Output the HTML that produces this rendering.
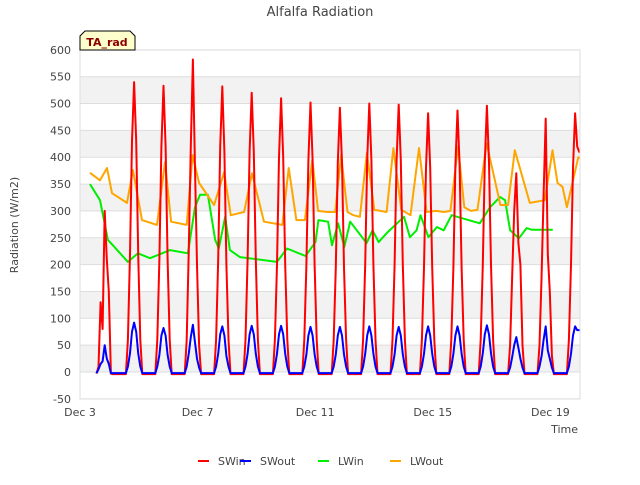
<!DOCTYPE html>
<html><head><meta charset="utf-8"><style>
body{margin:0;background:#fff;}
svg{font-family:"DejaVu Sans","Liberation Sans",sans-serif;}
</style></head><body>
<svg id="chart" width="640" height="480" xmlns="http://www.w3.org/2000/svg">
<text x="320" y="16" text-anchor="middle" font-size="13" fill="#444">Alfalfa Radiation</text>
<g id="bands"></g>
<g id="grid"></g>
<g id="yticks"></g>
<g id="xticks"></g>
<g id="series" clip-path="url(#clip)"></g>
<defs><clipPath id="clip"><rect x="80" y="50" width="500" height="349"/></clipPath></defs>
<rect x="80" y="50" width="500" height="349" fill="none" stroke="#ddd"/>
<text transform="translate(18,225) rotate(-90)" text-anchor="middle" font-size="11" fill="#444">Radiation (W/m2)</text>
<text x="578" y="433" text-anchor="end" font-size="11" fill="#444">Time</text>
<g>
<path d="M80,50 L80,36 L85,31 L130,31 L135,36 L135,50 Z" fill="#ffffcc" stroke="#000" stroke-width="1"/>
<text x="107" y="46" text-anchor="middle" font-size="11" font-weight="bold" fill="#8b0000">TA_rad</text>
</g>
<g id="legend"></g>
</svg>
<script>
const NS="http://www.w3.org/2000/svg";
const yTicks=[-50,0,50,100,150,200,250,300,350,400,450,500,550,600];
const xTickLabels=["Dec 3","Dec 7","Dec 11","Dec 15","Dec 19"];
const xTickDays=[0,4,8,12,16];
const seriesNames=["SWin","SWout","LWin","LWout"];
const seriesColors=["#ff0000","#0000ff","#00ee00","#ffa500"];
const swOffsets=[0.56,0.63,0.7,0.77,0.84,0.91,0.98,1.05,1.12];
const swinDays=[
[-3,10,130,80,300,210,150,-3,-4],
[-4,60,220,430,540,430,220,60,-4],
[-4,60,210,420,533,420,210,60,-4],
[-4,60,230,420,582,380,200,50,-4],
[-4,60,210,420,532,410,200,60,-4],
[-4,60,210,410,520,410,210,60,-4],
[-4,60,200,400,510,400,200,60,-4],
[-4,60,200,395,502,395,200,60,-4],
[-4,60,195,390,492,390,195,60,-4],
[-4,60,200,395,500,395,200,60,-4],
[-4,60,200,395,498,395,200,60,-4],
[-4,60,195,380,482,380,195,60,-4],
[-4,60,195,385,487,385,195,60,-4],
[-4,60,200,390,496,390,200,60,-4],
[-4,50,180,300,370,240,200,50,-4],
[-4,50,180,330,472,220,150,30,-4],
[-4,60,200,380,482,420,410,410,410]];
const swoutDays=[
[-2,5,15,20,50,25,15,-2,-2],
[-2,10,35,75,92,75,35,10,-2],
[-2,10,32,68,82,68,32,10,-2],
[-2,10,35,65,88,55,25,8,-2],
[-2,10,34,70,85,68,30,10,-2],
[-2,10,34,70,86,70,34,10,-2],
[-2,10,34,70,86,70,34,10,-2],
[-2,10,33,68,84,68,33,10,-2],
[-2,10,33,68,84,68,33,10,-2],
[-2,10,34,68,85,68,34,10,-2],
[-2,10,33,68,84,68,33,10,-2],
[-2,10,34,68,85,68,34,10,-2],
[-2,10,34,68,85,68,34,10,-2],
[-2,10,35,70,87,70,35,10,-2],
[-2,8,28,50,65,45,25,8,-2],
[-2,10,30,60,85,40,25,8,-2],
[-2,10,34,68,85,78,78,78,78]];
const lwinT=[0.34,0.68,0.95,1.12,1.63,1.97,2.38,3.06,3.67,3.91,4.08,4.35,4.6,4.72,4.94,5.1,5.44,6.7,7.04,7.67,8.01,8.11,8.44,8.57,8.78,8.99,9.19,9.75,9.95,10.16,10.44,11.02,11.22,11.45,11.58,11.85,12.14,12.37,12.64,13.6,13.95,14.29,14.46,14.63,14.93,15.19,15.36,15.53,15.61,15.75,16.08];
const lwinV=[350,320,246,236,205,221,212,227,221,307,330,330,246,230,289,227,214,205,230,216,242,283,280,236,277,233,280,240,264,242,259,289,251,264,292,251,270,264,292,277,307,326,320,264,249,268,265,265,265,265,265];
const lwoutT=[0.34,0.68,0.92,1.09,1.6,1.8,2.11,2.62,2.89,3.1,3.63,3.83,4.05,4.56,4.9,5.13,5.58,5.85,6.26,6.88,7.1,7.36,7.65,7.9,8.1,8.4,8.68,8.88,9.1,9.3,9.52,9.76,10.01,10.43,10.66,10.93,11.24,11.53,11.79,12.1,12.38,12.6,12.86,13.07,13.3,13.52,13.83,14.3,14.56,14.79,15.3,15.81,16.07,16.24,16.41,16.56,16.95,17.02];
const lwoutV=[371,357,380,333,315,376,283,274,391,280,274,404,352,311,372,292,298,370,280,274,380,283,283,395,300,298,298,404,298,292,289,408,302,298,417,302,292,417,298,300,298,300,420,307,300,302,426,311,311,413,315,320,413,352,345,307,400,398];

function X(t){return 80+t*29.4;}
function Y(v){return 372-v*349/650;}
const bands=document.getElementById('bands');
for(let i=0;i<yTicks.length-1;i++){
  const lo=yTicks[i];
  if(lo>=0 && (lo/50)%2===0){
    const r=document.createElementNS(NS,'rect');
    
    
    r.setAttribute('x',80);r.setAttribute('width',500);
    r.setAttribute('y',Y(lo+50));r.setAttribute('height',Y(lo)-Y(lo+50));
    r.setAttribute('fill','#f2f2f2');bands.appendChild(r);
  }
}
const grid=document.getElementById('grid'),yt=document.getElementById('yticks');
yTicks.forEach(v=>{
  const l=document.createElementNS(NS,'line');
  
  
  l.setAttribute('x1',80);l.setAttribute('x2',580);l.setAttribute('y1',Y(v));l.setAttribute('y2',Y(v));
  l.setAttribute('stroke','#ddd');grid.appendChild(l);
  const t=document.createElementNS(NS,'text');
  
  
  t.setAttribute('x',71);t.setAttribute('y',Y(v)+4);t.setAttribute('text-anchor','end');
  t.setAttribute('font-size','11');t.setAttribute('fill','#444');t.textContent=v;yt.appendChild(t);
});
const xt=document.getElementById('xticks');
xTickDays.forEach((d,i)=>{
  const t=document.createElementNS(NS,'text');
  
  
  t.setAttribute('x',X(d));t.setAttribute('y',416);t.setAttribute('text-anchor','middle');
  t.setAttribute('font-size','11');t.setAttribute('fill','#444');t.textContent=xTickLabels[i];xt.appendChild(t);
});
function swPts(days){const p=[];days.forEach((vals,d)=>{vals.forEach((v,j)=>p.push([d+swOffsets[j],v]));});return p;}
function tvPts(T,V){return T.map((t,i)=>[t,V[i]]);}
const ptsets=[swPts(swinDays),swPts(swoutDays),tvPts(lwinT,lwinV),tvPts(lwoutT,lwoutV)];
const sg=document.getElementById('series');
const order=[2,3,0,1];
order.forEach(k=>{
  const p=document.createElementNS(NS,'path');
  
  
  p.setAttribute('d',ptsets[k].map((q,i)=>(i?'L':'M')+X(q[0]).toFixed(1)+','+Y(q[1]).toFixed(1)).join(''));
  p.setAttribute('fill','none');p.setAttribute('stroke',seriesColors[k]);p.setAttribute('stroke-width','2');
  p.setAttribute('stroke-linejoin','round');
  sg.appendChild(p);
});
const lg=document.getElementById('legend');
const lx=[198,240,318,390];
seriesNames.forEach((n,i)=>{
  const g=document.createElementNS(NS,'g');
  
  
  const l=document.createElementNS(NS,'line');
  l.setAttribute('x1',lx[i]);l.setAttribute('x2',lx[i]+11);l.setAttribute('y1',461);l.setAttribute('y2',461);
  l.setAttribute('stroke',seriesColors[i]);l.setAttribute('stroke-width','2');g.appendChild(l);
  const t=document.createElementNS(NS,'text');
  t.setAttribute('x',lx[i]+20);t.setAttribute('y',465);t.setAttribute('font-size','11');t.setAttribute('fill','#444');
  t.textContent=n;g.appendChild(t);lg.appendChild(g);
});
</script>
</body></html>
